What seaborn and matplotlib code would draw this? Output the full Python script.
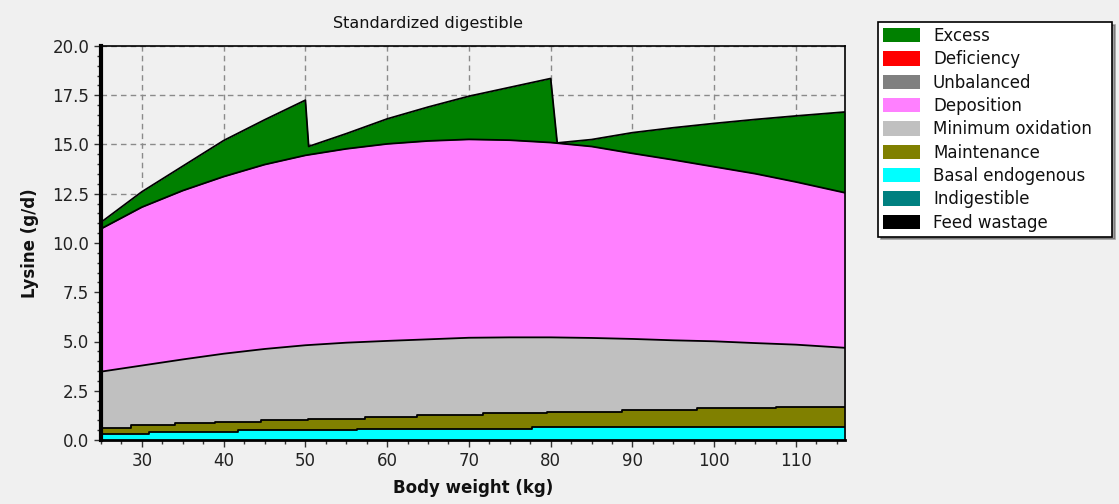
import numpy as np
import matplotlib
matplotlib.use("Agg")
import matplotlib.pyplot as plt
from matplotlib.patches import Patch
from matplotlib.ticker import MultipleLocator, FormatStrFormatter
import seaborn as sns

# ---------------- data (cumulative levels, g/d) ----------------
legend_labels = ["Excess", "Deficiency", "Unbalanced", "Deposition", "Minimum oxidation",
                 "Maintenance", "Basal endogenous", "Indigestible", "Feed wastage"]
legend_colors = ["#008000", "#ff0000", "#808080", "#ff80ff", "#c0c0c0",
                 "#808000", "#00ffff", "#008080", "#000000"]

# Excess (top of total requirement + excess)
excess_x = [25, 30, 35, 40, 45, 50, 50.4, 55, 60, 65, 70, 75, 80, 80.8,
            85, 90, 95, 100, 105, 110, 116]
excess_top = [11.05, 12.6, 13.9, 15.2, 16.25, 17.25, 14.9, 15.55, 16.3, 16.9, 17.45, 17.9, 18.35, 15.08,
              15.25, 15.6, 15.85, 16.07, 16.27, 16.45, 16.65]

# Deposition and minimum oxidation (cumulative tops)
bw = [25, 30, 35, 40, 45, 50, 55, 60, 65, 70, 75, 80, 85, 90, 95, 100, 105, 110, 116]
deposition_top = [10.72, 11.82, 12.66, 13.37, 13.98, 14.45, 14.78, 15.03, 15.18, 15.26,
                  15.22, 15.1, 14.9, 14.55, 14.22, 13.87, 13.52, 13.1, 12.55]
min_oxidation_top = [3.47, 3.78, 4.09, 4.38, 4.62, 4.81, 4.94, 5.03, 5.11, 5.19,
                     5.21, 5.21, 5.18, 5.13, 5.06, 5.01, 4.92, 4.84, 4.68]

# Maintenance (step-wise cumulative top)
maint_x = [25, 28.7, 34.0, 38.9, 44.6, 50.3, 57.3, 63.6, 71.7, 79.5, 88.7, 97.9, 107.5, 116]
maint_top = [0.62, 0.74, 0.84, 0.90, 0.99, 1.08, 1.16, 1.25, 1.35, 1.41, 1.51, 1.60, 1.66, 1.66]

# Basal endogenous (step-wise)
basal_x = [25, 30.9, 41.7, 56.3, 77.7, 116]
basal_top = [0.28, 0.42, 0.50, 0.57, 0.65, 0.65]

x_ticks = [30, 40, 50, 60, 70, 80, 90, 100, 110]

# ---------------- styling ----------------
sns.set_theme(style="ticks")
plt.rcParams["font.family"] = ["DejaVu Sans"]
bg = "#f0f0f0"

fig = plt.figure(figsize=(11.19, 5.04), dpi=100, facecolor=bg)
ax = fig.add_axes([101 / 1119, 1 - 440 / 504, 744 / 1119, 394 / 504])
ax.set_facecolor(bg)
ax.set_axisbelow(True)

# painter's order: topmost layer first
layers = [
    (excess_x, excess_top, legend_colors[0], None),
    (bw, deposition_top, legend_colors[3], None),
    (bw, min_oxidation_top, legend_colors[4], None),
    (maint_x, maint_top, legend_colors[5], "post"),
    (basal_x, basal_top, legend_colors[6], "post"),
]
for xs, ys, col, step in layers:
    ax.fill_between(xs, 0, ys, color=col, step=step, linewidth=0, zorder=2)
    sns.lineplot(x=xs, y=ys, ax=ax, color="black", linewidth=1.3, sort=False,
                 estimator=None, drawstyle="steps-post" if step else "default",
                 zorder=3, legend=False)

ax.set_xlim(25, 116)
ax.set_ylim(0, 20)
ax.set_xticks(x_ticks)
ax.xaxis.set_minor_locator(MultipleLocator(2.5))
ax.yaxis.set_major_locator(MultipleLocator(2.5))
ax.yaxis.set_minor_locator(MultipleLocator(0.5))
ax.yaxis.set_major_formatter(FormatStrFormatter("%.1f"))

ax.grid(True, which="major", linestyle=(0, (4, 3)), color="#8a8a8a", linewidth=1.0)

for side in ["top", "right"]:
    ax.spines[side].set_linewidth(1.2)
    ax.spines[side].set_color("black")
ax.spines["left"].set_linewidth(3)
ax.spines["bottom"].set_linewidth(2)
ax.spines["left"].set_color("black")
ax.spines["bottom"].set_color("black")
ax.spines["top"].set_zorder(5)
ax.spines["right"].set_zorder(5)

ax.tick_params(axis="both", which="major", direction="out", length=5, width=1,
               color="#333333", labelsize=12, labelcolor="#222222")
ax.tick_params(axis="both", which="minor", direction="out", length=3, width=1, color="#333333")

ax.set_xlabel("Body weight (kg)", fontsize=12, fontweight="bold", color="#111111")
ax.set_ylabel("Lysine (g/d)", fontsize=12, fontweight="bold", color="#111111")
ax.xaxis.label.set_va("center")
ax.yaxis.label.set_va("center")
ax.xaxis.set_label_coords(0.5, (440 - 488) / 394)
ax.yaxis.set_label_coords((30 - 101) / 744, 0.5)

ax.set_title("Standardized digestible", fontsize=11.5, color="#111111",
             x=(428 - 101) / 744, pad=13)

handles = [Patch(facecolor=c, edgecolor="none") for c in legend_colors]
leg = fig.legend(handles, legend_labels, loc="upper left",
                 bbox_to_anchor=(878 / 1119, (504 - 237) / 504, 234 / 1119, 215 / 504),
                 mode="expand", frameon=True, fancybox=False, shadow=True, fontsize=12,
                 handlelength=2.2, handleheight=0.95, labelspacing=0.32,
                 borderpad=0.3, handletextpad=0.8, borderaxespad=0)
leg.get_frame().set_edgecolor("black")
leg.get_frame().set_linewidth(1.2)
leg.get_frame().set_facecolor("white")
for t in leg.get_texts():
    t.set_color("#111111")

fig.savefig("out.png", dpi=100, facecolor=bg)
